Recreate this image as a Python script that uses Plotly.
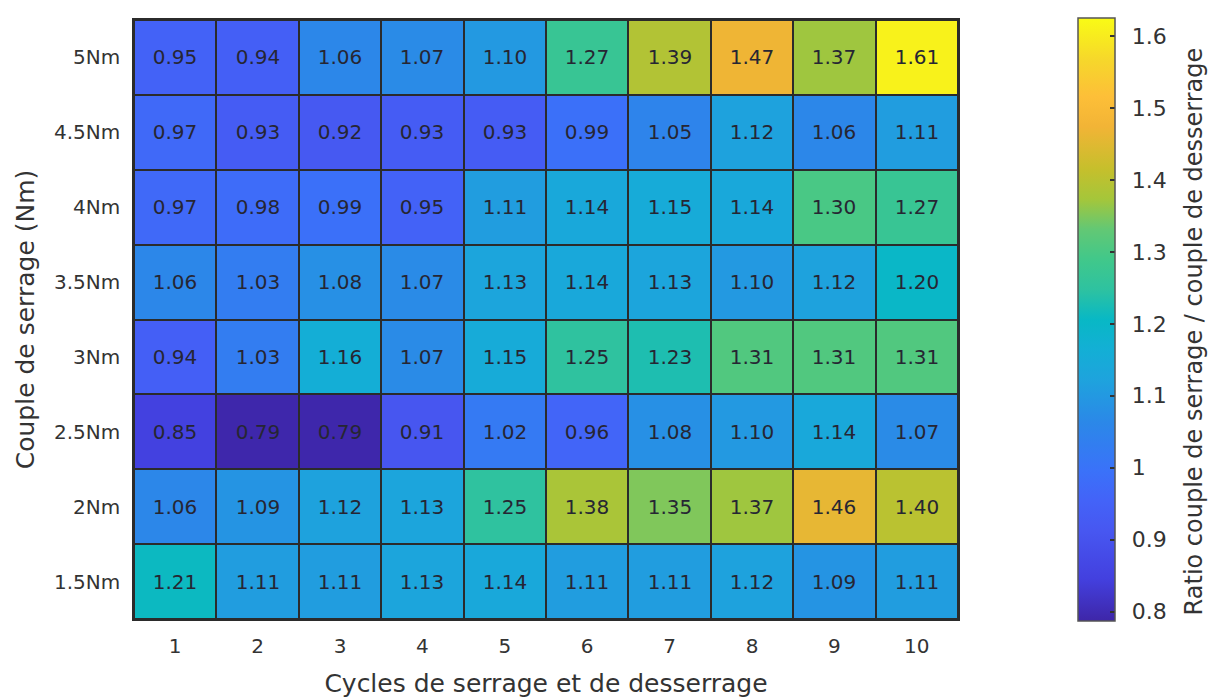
import plotly.graph_objects as go

cycles = ["1", "2", "3", "4", "5", "6", "7", "8", "9", "10"]
torques = ["1.5Nm", "2Nm", "2.5Nm", "3Nm", "3.5Nm", "4Nm", "4.5Nm", "5Nm"]

r_1_5 = [1.21, 1.11, 1.11, 1.13, 1.14, 1.11, 1.11, 1.12, 1.09, 1.11]
r_2 = [1.06, 1.09, 1.12, 1.13, 1.25, 1.38, 1.35, 1.37, 1.46, 1.40]
r_2_5 = [0.85, 0.79, 0.79, 0.91, 1.02, 0.96, 1.08, 1.10, 1.14, 1.07]
r_3 = [0.94, 1.03, 1.16, 1.07, 1.15, 1.25, 1.23, 1.31, 1.31, 1.31]
r_3_5 = [1.06, 1.03, 1.08, 1.07, 1.13, 1.14, 1.13, 1.10, 1.12, 1.20]
r_4 = [0.97, 0.98, 0.99, 0.95, 1.11, 1.14, 1.15, 1.14, 1.30, 1.27]
r_4_5 = [0.97, 0.93, 0.92, 0.93, 0.93, 0.99, 1.05, 1.12, 1.06, 1.11]
r_5 = [0.95, 0.94, 1.06, 1.07, 1.10, 1.27, 1.39, 1.47, 1.37, 1.61]

z = [r_1_5, r_2, r_2_5, r_3, r_3_5, r_4, r_4_5, r_5]

cbar_vals = [0.8, 0.9, 1.0, 1.1, 1.2, 1.3, 1.4, 1.5, 1.6]
cbar_text = ["0.8", "0.9", "1", "1.1", "1.2", "1.3", "1.4", "1.5", "1.6"]

parula = [
    [0.0, '#3e26a8'],
    [0.07, '#4340df'],
    [0.15, '#4757f1'],
    [0.2, '#4363f8'],
    [0.25, '#3a72f9'],
    [0.33, '#2b88e8'],
    [0.4, '#1ea3dd'],
    [0.45, '#13afd5'],
    [0.5, '#08b8c5'],
    [0.55, '#2ec2a0'],
    [0.6, '#41c88a'],
    [0.65, '#63c874'],
    [0.7, '#a5c63a'],
    [0.75, '#c6bf2c'],
    [0.82, '#f2b436'],
    [0.87, '#fdbf38'],
    [0.93, '#f6d72b'],
    [1.0, '#f9fb15'],
]

FONT = "DejaVu Sans, Liberation Sans, Arial"

fig = go.Figure(go.Heatmap(
    x=cycles, y=torques, z=z,
    colorscale=parula, zmin=0.787, zmax=1.625,
    xgap=2, ygap=2,
    texttemplate="%{z:.2f}",
    textfont=dict(family=FONT, size=20, color="#262633"),
    hoverinfo="skip",
    colorbar=dict(
        thickness=37, thicknessmode="pixels",
        len=603, lenmode="pixels",
        x=1.1456, xanchor="left", xpad=0, ypad=0,
        y=0.5, yanchor="middle",
        outlinewidth=1.5, outlinecolor="#555555",
        ticks="inside", ticklen=5, tickcolor="#333333", tickwidth=1.5,
        tickvals=cbar_vals,
        ticktext=["\u2002" + t for t in cbar_text],
        tickfont=dict(family=FONT, size=22, color="#333333"),
    ),
))

fig.add_annotation(
    text="Ratio couple de serrage / couple de desserrage",
    xref="paper", yref="paper", x=1.2875, y=0.48,
    xanchor="center", yanchor="middle", textangle=-90, showarrow=False,
    font=dict(family=FONT, size=24, color="#333333"),
)

fig.update_layout(
    width=1216, height=697,
    margin=dict(l=126, r=266, t=12, b=86, autoexpand=False),
    paper_bgcolor="white",
    plot_bgcolor="#2b2b2b",
    font=dict(family=FONT, color="#333333"),
    xaxis=dict(
        type="category", showgrid=False, zeroline=False,
        showline=True, linecolor="#2b2b2b", linewidth=1.5, mirror=True,
        ticks="outside", ticklen=8, tickcolor="rgba(0,0,0,0)",
        tickfont=dict(family=FONT, size=20, color="#333333"),
        title=dict(text="Cycles de serrage et de desserrage", standoff=18,
                   font=dict(family=FONT, size=25, color="#333333")),
    ),
    yaxis=dict(
        type="category", showgrid=False, zeroline=False,
        showline=True, linecolor="#2b2b2b", linewidth=1.5, mirror=True,
        ticks="outside", ticklen=8, tickcolor="rgba(0,0,0,0)",
        tickfont=dict(family=FONT, size=20, color="#333333"),
        title=dict(text="Couple de serrage (Nm)", standoff=12,
                   font=dict(family=FONT, size=25, color="#333333")),
    ),
)

fig.write_html("out.html")
